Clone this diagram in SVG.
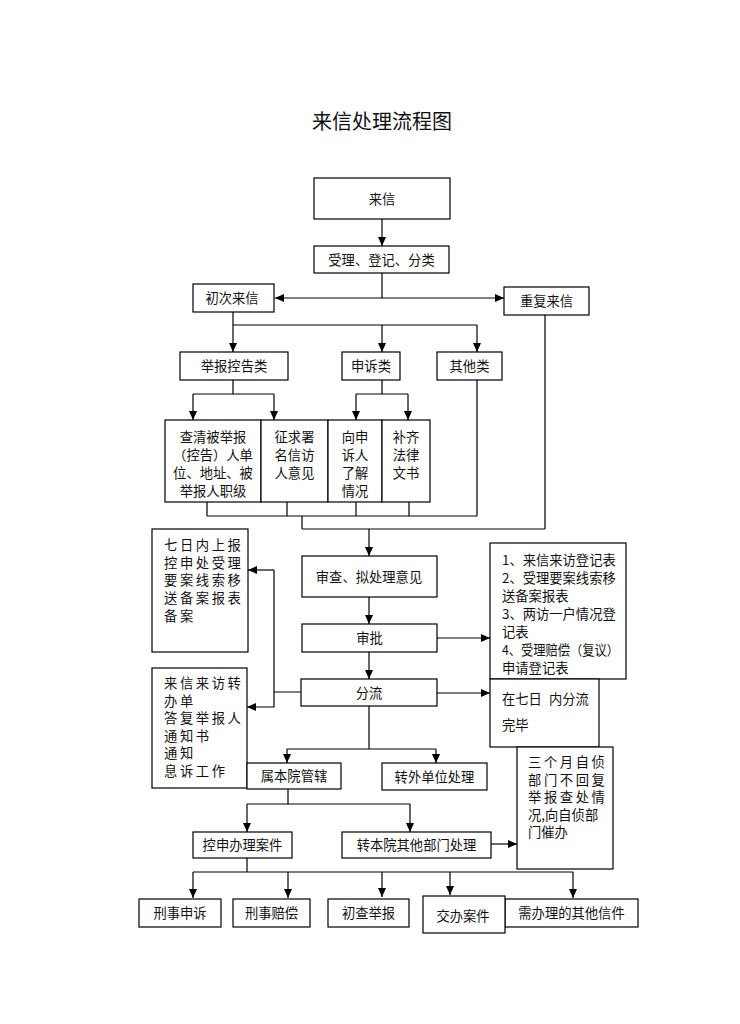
<svg xmlns="http://www.w3.org/2000/svg" width="740" height="1024" viewBox="0 0 740 1024">
<style>
.b{fill:#fff;stroke:#000;stroke-width:1.2}
.t{font-family:"Noto Sans CJK SC",sans-serif;font-size:13.3px;fill:#111}
.c{text-anchor:middle}
.ls{letter-spacing:2.6px}
.ln{fill:none;stroke:#000;stroke-width:1.2}
</style>
<defs>
<marker id="a" markerUnits="userSpaceOnUse" markerWidth="10" markerHeight="10" refX="9" refY="4" orient="auto">
<path d="M0,0 L9,4 L0,8 Z" fill="#000"/>
</marker>
</defs>
<rect width="740" height="1024" fill="#fff"/>
<text x="382" y="129" class="c" style="font-family:'Noto Sans CJK SC',sans-serif;font-size:20px;fill:#111">来信处理流程图</text>

<g id="connectors" class="ln">
<path d="M382,219 V246" marker-end="url(#a)"/>
<path d="M382,273 V298"/>
<path d="M382,298 H275" marker-end="url(#a)"/>
<path d="M382,298 H504" marker-end="url(#a)"/>
<path d="M233,312 V325 M233,325 H477"/>
<path d="M233,325 V352" marker-end="url(#a)"/>
<path d="M382,325 V352" marker-end="url(#a)"/>
<path d="M477,325 V352" marker-end="url(#a)"/>
<path d="M233,380 V394 M193,394 H274"/>
<path d="M193,394 V420" marker-end="url(#a)"/>
<path d="M274,394 V420" marker-end="url(#a)"/>
<path d="M382,380 V394 M356,394 H408"/>
<path d="M356,394 V420" marker-end="url(#a)"/>
<path d="M408,394 V420" marker-end="url(#a)"/>
<path d="M477,380 V516 M207,502 V516 M287,502 V516 M356,502 V516 M409,502 V516 M207,516 H477"/>
<path d="M302,516 V529 M302,529 H545 M545,529 V315"/>
<path d="M369,529 V556" marker-end="url(#a)"/>
<path d="M369,597 V624" marker-end="url(#a)"/>
<path d="M369,652 V679" marker-end="url(#a)"/>
<path d="M437,638 H490" marker-end="url(#a)"/>
<path d="M437,693 H490" marker-end="url(#a)"/>
<path d="M301,692 H274 M274,692 V570"/>
<path d="M274,570 H248" marker-end="url(#a)"/>
<path d="M274,692 V707 H247" marker-end="url(#a)"/>
<path d="M369,706 V749 M287,749 H436"/>
<path d="M287,749 V763" marker-end="url(#a)"/>
<path d="M436,749 V763" marker-end="url(#a)"/>
<path d="M288,789 V804 M247,804 H410"/>
<path d="M247,804 V832" marker-end="url(#a)"/>
<path d="M410,804 V832" marker-end="url(#a)"/>
<path d="M491,844 H517" marker-end="url(#a)"/>
<path d="M247,858 V872 M193,872 H573"/>
<path d="M193,872 V898" marker-end="url(#a)"/>
<path d="M288,872 V898" marker-end="url(#a)"/>
<path d="M382,872 V897" marker-end="url(#a)"/>
<path d="M450,872 V895" marker-end="url(#a)"/>
<path d="M573,872 V898" marker-end="url(#a)"/>
</g>

<g id="n-laixin"><rect class="b" x="314" y="178" width="136" height="41"/><text class="t c" x="382" y="203.5">来信</text></g>
<g id="n-shouli"><rect class="b" x="314" y="246" width="135" height="27"/><text class="t c" x="381.5" y="264.5">受理、登记、分类</text></g>
<g id="n-chuci"><rect class="b" x="193" y="284" width="81" height="28"/><text class="t c" x="232" y="303">初次来信</text></g>
<g id="n-chongfu"><rect class="b" x="504" y="287" width="85" height="28"/><text class="t c" x="546.5" y="306">重复来信</text></g>
<g id="n-jubao"><rect class="b" x="180" y="352" width="108" height="28"/><text class="t c" x="234" y="371">举报控告类</text></g>
<g id="n-shensu"><rect class="b" x="342" y="352" width="58" height="28"/><text class="t c" x="371" y="371">申诉类</text></g>
<g id="n-qita"><rect class="b" x="437" y="352" width="65" height="28"/><text class="t c" x="469.5" y="371">其他类</text></g>

<g id="n-chaqing"><rect class="b" x="165" y="420" width="96" height="82"/>
<text class="t c" x="213" y="442">查清被举报</text>
<text class="t c" x="213" y="460">（控告）人单</text>
<text class="t c" x="213" y="478">位、地址、被</text>
<text class="t c" x="213" y="496">举报人职级</text></g>
<g id="n-zhengqiu"><rect class="b" x="261" y="420" width="67" height="82"/>
<text class="t c" x="294.5" y="442">征求署</text>
<text class="t c" x="294.5" y="460">名信访</text>
<text class="t c" x="294.5" y="478">人意见</text></g>
<g id="n-xiangshen"><rect class="b" x="328" y="420" width="54" height="82"/>
<text class="t c" x="355" y="442">向申</text>
<text class="t c" x="355" y="460">诉人</text>
<text class="t c" x="355" y="478">了解</text>
<text class="t c" x="355" y="496">情况</text></g>
<g id="n-buqi"><rect class="b" x="382" y="420" width="48" height="82"/>
<text class="t c" x="406" y="442">补齐</text>
<text class="t c" x="406" y="460">法律</text>
<text class="t c" x="406" y="478">文书</text></g>

<g id="n-qiri"><rect class="b" x="152" y="529" width="96" height="123"/>
<text class="t ls" x="164" y="550">七日内上报</text>
<text class="t ls" x="164" y="567.5">控申处受理</text>
<text class="t ls" x="164" y="585">要案线索移</text>
<text class="t ls" x="164" y="602.5">送备案报表</text>
<text class="t ls" x="164" y="621">备案</text></g>

<g id="n-shencha"><rect class="b" x="302" y="556" width="135" height="41"/><text class="t c" x="369" y="582">审查、拟处理意见</text></g>
<g id="n-shenpi"><rect class="b" x="302" y="624" width="135" height="28"/><text class="t c" x="369.5" y="643">审批</text></g>
<g id="n-fenliu"><rect class="b" x="301" y="679" width="136" height="27"/><text class="t c" x="369" y="697.5">分流</text></g>

<g id="n-biaoge"><rect class="b" x="490" y="543" width="136" height="136"/>
<text class="t" x="502" y="565">1、来信来访登记表</text>
<text class="t" x="502" y="583">2、受理要案线索移</text>
<text class="t" x="502" y="601">送备案报表</text>
<text class="t" x="502" y="619">3、两访一户情况登</text>
<text class="t" x="502" y="637">记表</text>
<text class="t" x="502" y="655" textLength="117" lengthAdjust="spacingAndGlyphs">4、受理赔偿（复议）</text>
<text class="t" x="502" y="673">申请登记表</text></g>

<g id="n-fenliuwanbi"><rect class="b" x="490" y="679" width="109" height="68"/>
<text class="t" x="502" y="704">在七日<tspan x="549">内分流</tspan></text>
<text class="t" x="502" y="730">完毕</text></g>

<g id="n-zhuanban"><rect class="b" x="152" y="668" width="95" height="120"/>
<text class="t ls" x="164" y="688">来信来访转</text>
<text class="t ls" x="164" y="705.5">办单</text>
<text class="t ls" x="164" y="723">答复举报人</text>
<text class="t ls" x="164" y="740.5">通知书</text>
<text class="t ls" x="164" y="758">通知</text>
<text class="t ls" x="164" y="775.5">息诉工作</text></g>

<g id="n-sanyue"><rect class="b" x="517" y="747" width="96" height="122"/>
<text class="t ls" x="528" y="767">三个月自侦</text>
<text class="t ls" x="528" y="784.5">部门不回复</text>
<text class="t ls" x="528" y="802">举报查处情</text>
<text class="t" x="528" y="819.5">况,向自侦部</text>
<text class="t" x="528" y="837">门催办</text></g>

<g id="n-shubenyuan"><rect class="b" x="247" y="763" width="94" height="26"/><text class="t c" x="294" y="781">属本院管辖</text></g>
<g id="n-zhuanwai"><rect class="b" x="382" y="763" width="105" height="27"/><text class="t c" x="434.5" y="781.5">转外单位处理</text></g>
<g id="n-kongshen"><rect class="b" x="193" y="832" width="99" height="26"/><text class="t c" x="242.5" y="850">控申办理案件</text></g>
<g id="n-zhuanbenyuan"><rect class="b" x="342" y="832" width="149" height="26"/><text class="t c" x="416.5" y="850">转本院其他部门处理</text></g>

<g id="n-xingshishensu"><rect class="b" x="139" y="899" width="82" height="28"/><text class="t c" x="180" y="918">刑事申诉</text></g>
<g id="n-xingshipeichang"><rect class="b" x="233" y="899" width="77" height="28"/><text class="t c" x="271.5" y="918">刑事赔偿</text></g>
<g id="n-chucha"><rect class="b" x="328" y="899" width="81" height="28"/><text class="t c" x="368.5" y="918">初查举报</text></g>
<g id="n-qitaxinjian"><rect class="b" x="505" y="899" width="133" height="28"/><text class="t c" x="571.5" y="918">需办理的其他信件</text></g>
<g id="n-jiaoban"><rect class="b" x="423" y="896" width="82" height="37"/><text class="t c" x="463" y="921">交办案件</text></g>
</svg>
